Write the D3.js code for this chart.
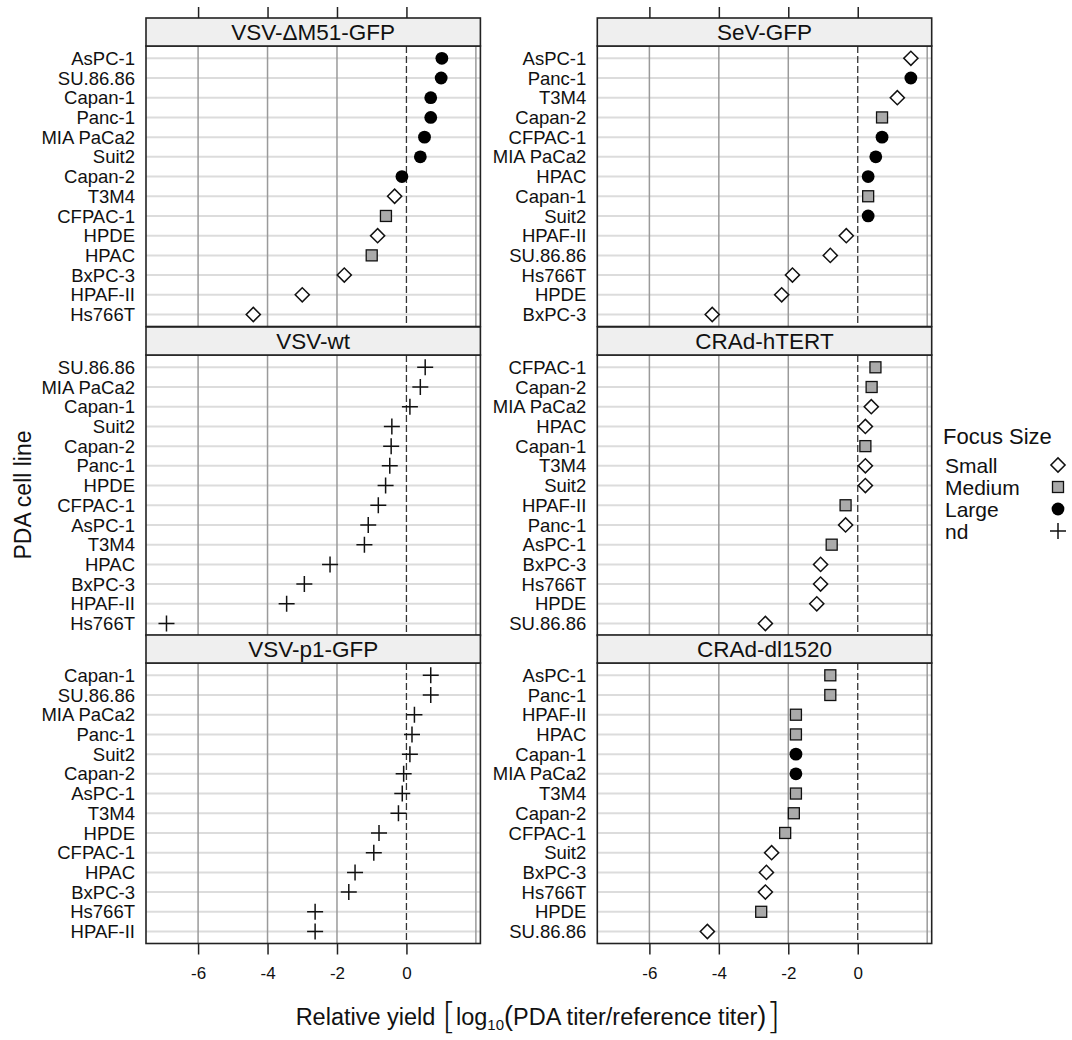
<!DOCTYPE html>
<html>
<head>
<meta charset="utf-8">
<script src="https://cdn.jsdelivr.net/npm/d3@7"></script>
<style>
  body { margin: 0; background: #fff; }
  text { font-family: "Liberation Sans", Arial, sans-serif; fill: #111; }
</style>
</head>
<body>
<div id="chart"></div>
<script>
// panel titles, left column top->bottom, then right column
var panelTitles = ["VSV-\u0394M51-GFP", "VSV-wt", "VSV-p1-GFP", "SeV-GFP", "CRAd-hTERT", "CRAd-dl1520"];

// VSV-dM51-GFP
var dm51Lines = ["AsPC-1","SU.86.86","Capan-1","Panc-1","MIA PaCa2","Suit2","Capan-2","T3M4","CFPAC-1","HPDE","HPAC","BxPC-3","HPAF-II","Hs766T"];
var dm51Yield = [1.02, 1.00, 0.70, 0.70, 0.52, 0.40, -0.13, -0.34, -0.59, -0.83, -1.00, -1.79, -3.00, -4.41];
var dm51Focus = ["Large","Large","Large","Large","Large","Large","Large","Small","Medium","Small","Medium","Small","Small","Small"];

// VSV-wt
var wtLines = ["SU.86.86","MIA PaCa2","Capan-1","Suit2","Capan-2","Panc-1","HPDE","CFPAC-1","AsPC-1","T3M4","HPAC","BxPC-3","HPAF-II","Hs766T"];
var wtYield = [0.54, 0.40, 0.10, -0.42, -0.44, -0.48, -0.60, -0.81, -1.10, -1.21, -2.20, -2.94, -3.45, -6.91];
var wtFocus = ["nd","nd","nd","nd","nd","nd","nd","nd","nd","nd","nd","nd","nd","nd"];

// VSV-p1-GFP
var p1Lines = ["Capan-1","SU.86.86","MIA PaCa2","Panc-1","Suit2","Capan-2","AsPC-1","T3M4","HPDE","CFPAC-1","HPAC","BxPC-3","Hs766T","HPAF-II"];
var p1Yield = [0.70, 0.70, 0.23, 0.16, 0.10, -0.08, -0.12, -0.23, -0.79, -0.94, -1.48, -1.66, -2.63, -2.63];
var p1Focus = ["nd","nd","nd","nd","nd","nd","nd","nd","nd","nd","nd","nd","nd","nd"];

// SeV-GFP
var sevLines = ["AsPC-1","Panc-1","T3M4","Capan-2","CFPAC-1","MIA PaCa2","HPAC","Capan-1","Suit2","HPAF-II","SU.86.86","Hs766T","HPDE","BxPC-3"];
var sevYield = [1.53, 1.53, 1.14, 0.70, 0.70, 0.52, 0.30, 0.30, 0.30, -0.33, -0.79, -1.88, -2.19, -4.19];
var sevFocus = ["Small","Large","Small","Medium","Large","Large","Large","Medium","Large","Small","Small","Small","Small","Small"];

// CRAd-hTERT
var htertLines = ["CFPAC-1","Capan-2","MIA PaCa2","HPAC","Capan-1","T3M4","Suit2","HPAF-II","Panc-1","AsPC-1","BxPC-3","Hs766T","HPDE","SU.86.86"];
var htertYield = [0.51, 0.40, 0.39, 0.22, 0.22, 0.22, 0.22, -0.35, -0.35, -0.75, -1.07, -1.07, -1.18, -2.66];
var htertFocus = ["Medium","Medium","Small","Small","Medium","Small","Small","Medium","Small","Medium","Small","Small","Small","Small"];

// CRAd-dl1520
var dlLines = ["AsPC-1","Panc-1","HPAF-II","HPAC","Capan-1","MIA PaCa2","T3M4","Capan-2","CFPAC-1","Suit2","BxPC-3","Hs766T","HPDE","SU.86.86"];
var dlYield = [-0.79, -0.79, -1.78, -1.78, -1.78, -1.78, -1.78, -1.84, -2.09, -2.48, -2.63, -2.66, -2.78, -4.33];
var dlFocus = ["Medium","Medium","Medium","Medium","Large","Large","Medium","Medium","Medium","Small","Small","Small","Medium","Small"];

var focusLevels = ["Small", "Medium", "Large", "nd"];
var xTicks = [-6, -4, -2, 0];
var xGrid = [-6, -4, -2, 2];

var panels = [
  {title: panelTitles[0], lines: dm51Lines, yld: dm51Yield, focus: dm51Focus},
  {title: panelTitles[1], lines: wtLines, yld: wtYield, focus: wtFocus},
  {title: panelTitles[2], lines: p1Lines, yld: p1Yield, focus: p1Focus},
  {title: panelTitles[3], lines: sevLines, yld: sevYield, focus: sevFocus},
  {title: panelTitles[4], lines: htertLines, yld: htertYield, focus: htertFocus},
  {title: panelTitles[5], lines: dlLines, yld: dlYield, focus: dlFocus}
];

var width = 1072, height = 1040;
var colX = [146, 597.3], panelW = 334.4;
var stripTop = [18, 327, 635], stripH = 28, dataH = 280.5;

var svg = d3.select("#chart").append("svg")
  .attr("width", width)
  .attr("height", height);

function drawSymbol(g, f, x, y) {
  if (f === "Small") {
    g.append("path").attr("d", d3.symbol(d3.symbolSquare, 100)())
      .attr("transform", `translate(${x},${y}) rotate(45)`)
      .attr("fill", "#fff").attr("stroke", "#111").attr("stroke-width", 1.5);
  } else if (f === "Medium") {
    g.append("rect").attr("x", x - 5.5).attr("y", y - 5.5).attr("width", 11).attr("height", 11)
      .attr("fill", "#aaa").attr("stroke", "#111").attr("stroke-width", 1.3);
  } else if (f === "Large") {
    g.append("circle").attr("cx", x).attr("cy", y).attr("r", 6.4).attr("fill", "#000");
  } else {
    g.append("path").attr("d", `M${x - 8},${y}H${x + 8}M${x},${y - 8}V${y + 8}`)
      .attr("stroke", "#111").attr("stroke-width", 1.5).attr("fill", "none");
  }
}

panels.forEach(function(p, i) {
  var col = Math.floor(i / 3), row = i % 3;
  var x0 = colX[col], top = stripTop[row] + stripH, bottom = top + dataH;
  var x = d3.scaleLinear().domain([-7.5, 2.13]).range([x0, x0 + panelW]);
  var y = d3.scalePoint().domain(p.lines).range([top + 12.3, bottom - 12]);
  var g = svg.append("g");

  // row lines
  g.selectAll(".rowline").data(p.lines).enter().append("line")
    .attr("x1", x0).attr("x2", x0 + panelW)
    .attr("y1", d => y(d)).attr("y2", d => y(d))
    .attr("stroke", "#dcdcdc").attr("stroke-width", 2);

  // vertical grid
  g.selectAll(".vgrid").data(xGrid).enter().append("line")
    .attr("x1", d => x(d)).attr("x2", d => x(d))
    .attr("y1", top).attr("y2", bottom)
    .attr("stroke", "#9a9a9a").attr("stroke-width", 1.5);
  g.append("line")
    .attr("x1", x(0)).attr("x2", x(0)).attr("y1", top).attr("y2", bottom)
    .attr("stroke", "#333").attr("stroke-width", 1.3).attr("stroke-dasharray", "7,3");

  // points
  p.lines.forEach(function(name, k) {
    drawSymbol(g, p.focus[k], x(p.yld[k]), y(name));
  });

  // y labels
  g.selectAll(".ylab").data(p.lines).enter().append("text")
    .attr("x", x0 - 11).attr("y", d => y(d)).attr("dy", "0.36em")
    .attr("text-anchor", "end").style("font-size", "18.5px")
    .text(d => d);

  // panel frame
  g.append("rect").attr("x", x0).attr("y", top).attr("width", panelW).attr("height", dataH)
    .attr("fill", "none").attr("stroke", "#222").attr("stroke-width", 1.6);

  // strip
  g.append("rect").attr("x", x0).attr("y", stripTop[row]).attr("width", panelW).attr("height", stripH)
    .attr("fill", "#efefef").attr("stroke", "#222").attr("stroke-width", 1.6);
  g.append("text").attr("x", x0 + panelW / 2).attr("y", stripTop[row] + stripH / 2).attr("dy", "0.36em")
    .attr("text-anchor", "middle").style("font-size", "22.5px").text(p.title);

  if (row === 0) {
    var top_ax = svg.append("g").attr("transform", `translate(0,${stripTop[0]})`)
      .call(d3.axisTop(x).tickValues(xTicks).tickSize(11).tickFormat(""));
    top_ax.select(".domain").remove();
    top_ax.selectAll("line").attr("stroke", "#222").attr("stroke-width", 1.5);
  }
  if (row === 2) {
    var bot = svg.append("g").attr("transform", `translate(0,${bottom})`)
      .call(d3.axisBottom(x).tickValues(xTicks).tickSize(11).tickPadding(12).tickFormat(d => String(d)));
    bot.select(".domain").remove();
    bot.selectAll("line").attr("stroke", "#222").attr("stroke-width", 1.5);
    bot.selectAll("text").style("font-size", "17px")
      .style("font-family", "'Liberation Sans', Arial, sans-serif").attr("fill", "#111");
  }
});

// y axis title
svg.append("text")
  .attr("transform", "translate(31,495) rotate(-90)")
  .attr("text-anchor", "middle").style("font-size", "23px")
  .text("PDA cell line");

// x axis title
var bracket = "'DejaVu Sans ExtraLight', 'DejaVu Sans', sans-serif";
var xt = svg.append("text").attr("x", 538).attr("y", 1025).attr("text-anchor", "middle").style("font-size", "23.5px");
xt.append("tspan").text("Relative yield ");
xt.append("tspan").style("font-size", "36px").style("font-family", bracket).style("font-weight", "200").attr("dy", "3").text("[");
xt.append("tspan").attr("dy", "-3").text("log");
xt.append("tspan").style("font-size", "15px").attr("dy", "5").text("10");
xt.append("tspan").style("font-size", "27px").attr("dy", "-5").text("(");
xt.append("tspan").text("PDA titer/reference titer");
xt.append("tspan").style("font-size", "27px").text(")");
xt.append("tspan").style("font-size", "36px").style("font-family", bracket).style("font-weight", "200").attr("dy", "3").text("]");

// legend
var leg = svg.append("g");
leg.append("text").attr("x", 943).attr("y", 444).style("font-size", "22px").text("Focus Size");
focusLevels.forEach(function(f, k) {
  var cy = 465 + k * 22;
  leg.append("text").attr("x", 945).attr("y", cy).attr("dy", "0.36em").style("font-size", "21px").text(f);
  drawSymbol(leg, f, 1058, cy);
});
</script>
</body>
</html>
